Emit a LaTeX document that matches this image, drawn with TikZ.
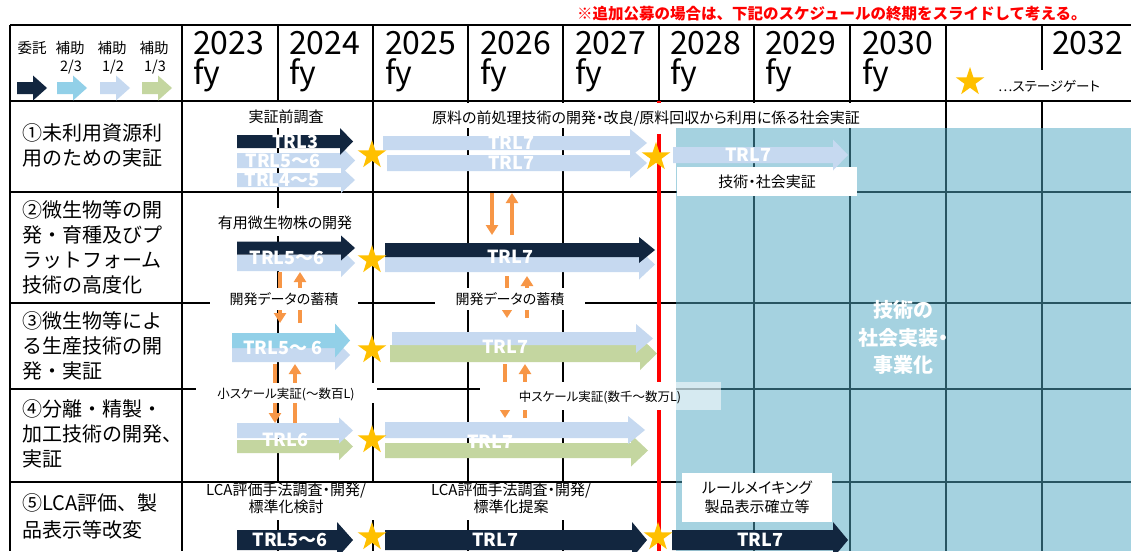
\documentclass[tikz,border=0pt]{standalone}
\usepackage{fontspec}
\setmainfont{Noto Sans CJK JP}[RawFeature=+palt]
\newfontfamily\jpfull{Noto Sans CJK JP}
\usetikzlibrary{shapes.geometric,arrows.meta}
\definecolor{navy}{RGB}{18,38,63}
\definecolor{skyb}{RGB}{146,208,232}
\definecolor{paleb}{RGB}{198,217,240}
\definecolor{greenb}{RGB}{196,214,160}
\definecolor{orng}{RGB}{247,150,70}
\definecolor{starc}{RGB}{255,192,0}
\definecolor{bluebg}{RGB}{165,210,224}
\definecolor{tealln}{RGB}{40,85,98}
\definecolor{redln}{RGB}{255,0,0}
% #1 colour, #2 x start, #3 x tip, #4 y centre, #5 body half height, #6 head half height, #7 head length
\newcommand\blockarr[7]{\fill[#1] (#2,#4-#5) -- (#3-#7,#4-#5) -- (#3-#7,#4-#6) -- (#3,#4) -- (#3-#7,#4+#6) -- (#3-#7,#4+#5) -- (#2,#4+#5) -- cycle;}
\tikzset{
  gridline/.style={line width=1.4pt},
  oarrow/.style={draw=orng, line width=4.5pt, -{Triangle[width=12pt,length=10pt]}},
  gate/.style={star, star points=5, star point ratio=2.6, fill=starc, minimum size=30pt, inner sep=0pt},
  trl/.style={text=white, font=\bfseries\fontsize{18}{20}\selectfont, inner sep=0pt},
  lbl/.style={font=\fontsize{15}{17}\selectfont, inner sep=0pt, align=center},
  rowlbl/.style={font=\jpfull\fontsize{20}{25}\selectfont, inner sep=0pt, align=left, anchor=west},
  yr/.style={font=\fontsize{32}{34}\selectfont, inner sep=0pt, anchor=base west},
  wbox/.style={fill=white}
}
\begin{document}
\begin{tikzpicture}[x=1pt,y=-1pt]
\useasboundingbox (0,0) rectangle (1131,551);
\clip (0,0) rectangle (1131,551);
\fill[white] (0,0) rectangle (1131,551);
% social implementation region
\fill[bluebg] (676,128) rectangle (1131,551);
% grid
\foreach \y in {25,101,192,303,389,482} \draw[gridline] (10,\y) -- (1131,\y);
\foreach \x in {10,182,278,373,468,563,659,754,850,946,1042} \draw[gridline] (\x,25) -- (\x,551);
\begin{scope}
\clip (676,128) rectangle (1131,551);
\foreach \y in {192,303,389,482} \draw[gridline,tealln] (10,\y) -- (1131,\y);
\foreach \x in {754,850,946,1042} \draw[gridline,tealln] (\x,25) -- (\x,551);
\end{scope}
% orange data arrows
\coordinate (oa1) at (492,193); \coordinate (oa2) at (492,235);
\coordinate (ob1) at (512,235); \coordinate (ob2) at (512,193);
\draw[oarrow] (oa1) -- (oa2); \draw[oarrow] (ob1) -- (ob2);
\coordinate (oc1) at (280,272); \coordinate (oc2) at (280,323);
\coordinate (od1) at (300,323); \coordinate (od2) at (300,272);
\draw[oarrow] (oc1) -- (oc2); \draw[oarrow] (od1) -- (od2);
\coordinate (oe1) at (507,276); \coordinate (oe2) at (507,318);
\coordinate (of1) at (527,318); \coordinate (of2) at (527,276);
\draw[oarrow] (oe1) -- (oe2); \draw[oarrow] (of1) -- (of2);
\coordinate (og1) at (275,364); \coordinate (og2) at (275,423);
\coordinate (oh1) at (295,423); \coordinate (oh2) at (295,364);
\draw[oarrow] (og1) -- (og2); \draw[oarrow] (oh1) -- (oh2);
\coordinate (oi1) at (505,364); \coordinate (oi2) at (505,418);
\coordinate (oj1) at (525,418); \coordinate (oj2) at (525,364);
\draw[oarrow] (oi1) -- (oi2); \draw[oarrow] (oj1) -- (oj2);
% red deadline
\coordinate (r1) at (659,101); \coordinate (r2) at (659,551);
\draw[redln, line width=3.5pt] (r1) -- (r2);
% white label backgrounds
\fill[wbox] (240,102) rectangle (332,128);
\fill[wbox] (425,103) rectangle (868,128);
\fill[wbox] (655,128) rectangle (663,134);
\fill[wbox] (210,208) rectangle (360,236);
\fill[wbox] (210,288) rectangle (358,310);
\fill[wbox] (435,288) rectangle (585,310);
\fill[wbox] (196,383) rectangle (377,403);
\fill[wbox] (480,382) rectangle (676,410);
\fill[white,opacity=.55] (676,382) rectangle (721,410);
\fill[wbox] (197,483) rectangle (387,520);
\fill[wbox] (398,483) rectangle (625,520);
\fill[wbox] (677,167) rectangle (857,196);
\fill[wbox] (682,473) rectangle (832,522);
\fill[wbox] (985,70) rectangle (1120,100);
% legend arrows
\blockarr{navy}{17}{47}{88}{6}{12.5}{14}
\blockarr{skyb}{57}{87}{88}{6}{12.5}{14}
\blockarr{paleb}{100}{130}{88}{6}{12.5}{14}
\blockarr{greenb}{142}{172}{88}{6}{12.5}{14}
% row 1
\blockarr{paleb}{237}{355}{180}{7}{13}{14}
\blockarr{paleb}{237}{355}{160.5}{7.5}{14}{14}
\blockarr{navy}{237}{353}{141.5}{6.5}{13.5}{13}
\blockarr{paleb}{387}{647}{163}{8}{15}{17}
\blockarr{paleb}{383}{647}{143}{7}{14}{17}
\blockarr{paleb}{673}{848}{155}{8}{15.5}{15}
% row 2
\blockarr{paleb}{237}{355}{263}{8}{14}{14}
\blockarr{navy}{237}{355}{248}{6.5}{12.5}{14}
\blockarr{paleb}{385}{655}{264.5}{7.5}{15}{16}
\blockarr{navy}{385}{655}{250}{7}{13}{16}
% row 3
\blockarr{paleb}{232}{350}{355}{7}{15}{15}
\blockarr{skyb}{232}{350}{340.5}{7.5}{17}{15}
\blockarr{greenb}{390}{657}{353.5}{8.5}{16.5}{17}
\blockarr{paleb}{392}{653}{338.5}{6.5}{14.5}{17}
% row 4
\blockarr{greenb}{237}{353}{446.5}{6.5}{13.5}{14}
\blockarr{paleb}{237}{353}{430.5}{7.5}{13}{14}
\blockarr{greenb}{385}{648}{450.5}{7.5}{16}{17}
\blockarr{paleb}{385}{645}{430}{8}{14}{17}
% row 5
\blockarr{navy}{237}{353}{540}{10}{18}{16}
\blockarr{navy}{385}{647}{540}{10}{18}{15}
\blockarr{navy}{672}{848}{540}{10}{18}{15}
% stage gates
\node[gate] (g0) at (970,82) {};
\node[gate] (g1) at (372,155) {};
\node[gate] (g2) at (656,157) {};
\node[gate] (g3) at (372,260) {};
\node[gate] (g4) at (372,350) {};
\node[gate] (g5) at (372,440) {};
\node[gate] (g6) at (372,537) {};
\node[gate] (g7) at (658,537) {};
% header texts
\node[anchor=west, inner sep=0pt, text=redln, font=\jpfull\bfseries\fontsize{15.5}{17}\selectfont] (note) at (577,14) {※追加公募の場合は、下記のスケジュールの終期をスライドして考える。};
\node[lbl, font=\jpfull\fontsize{14.5}{16}\selectfont] (l0) at (32,48) {委託};
\node[lbl, font=\jpfull\fontsize{14.5}{16}\selectfont] (l1) at (70,48) {補助};
\node[lbl, font=\jpfull\fontsize{14.5}{16}\selectfont] (l2) at (112,48) {補助};
\node[lbl, font=\jpfull\fontsize{14.5}{16}\selectfont] (l3) at (154,48) {補助};
\node[lbl, font=\fontsize{14.5}{16}\selectfont] (f1) at (71,67) {2/3};
\node[lbl, font=\fontsize{14.5}{16}\selectfont] (f2) at (113,67) {1/2};
\node[lbl, font=\fontsize{14.5}{16}\selectfont] (f3) at (155,67) {1/3};
\node[yr] (y23) at (193,55) {2023}; \node[yr] (fy23) at (193,84) {fy};
\node[yr] (y24) at (289,55) {2024}; \node[yr] (fy24) at (289,84) {fy};
\node[yr] (y25) at (385,55) {2025}; \node[yr] (fy25) at (385,84) {fy};
\node[yr] (y26) at (480,55) {2026}; \node[yr] (fy26) at (480,84) {fy};
\node[yr] (y27) at (575,55) {2027}; \node[yr] (fy27) at (575,84) {fy};
\node[yr] (y28) at (670,55) {2028}; \node[yr] (fy28) at (670,84) {fy};
\node[yr] (y29) at (765,55) {2029}; \node[yr] (fy29) at (765,84) {fy};
\node[yr] (y30) at (862,55) {2030}; \node[yr] (fy30) at (862,84) {fy};
\node[yr] (y32) at (1052,55) {2032};
\node[anchor=west, inner sep=0pt, font=\fontsize{13.5}{15}\selectfont] (sg) at (998,86) {…ステージゲート};
% row labels
\node[rowlbl] (r1l) at (22,145.5) {①未利用資源利\\用のための実証};
\node[rowlbl] (r2l) at (22,247) {②微生物等の開\\発・育種及びプ\\ラットフォーム\\技術の高度化};
\node[rowlbl] (r3l) at (22,346) {③微生物等によ\\る生産技術の開\\発・実証};
\node[rowlbl] (r4l) at (22,434) {④分離・精製・\\加工技術の開発、\\実証};
\node[rowlbl, font=\jpfull\fontsize{20}{27}\selectfont] (r5l) at (22,516.5) {⑤LCA評価、製\\品表示等改変};
% task labels
\node[lbl] (t1) at (286,117) {実証前調査};
\node[lbl] (t2) at (646,119) {原料の前処理技術の開発・改良/原料回収から利用に係る社会実証};
\node[lbl] (t3) at (285,223) {有用微生物株の開発};
\node[lbl, font=\fontsize{14}{16}\selectfont] (t4) at (284,299) {開発データの蓄積};
\node[lbl, font=\fontsize{14}{16}\selectfont] (t5) at (510,299) {開発データの蓄積};
\node[lbl, font=\fontsize{12.5}{14}\selectfont] (t6) at (286,394) {小スケール実証(～数百L)};
\node[lbl, font=\fontsize{12.5}{14}\selectfont] (t7) at (600,397) {中スケール実証(数千～数万L)};
\node[lbl] (t8) at (286,498.5) {LCA評価手法調査・開発/\\標準化検討};
\node[lbl] (t9) at (511,498.5) {LCA評価手法調査・開発/\\標準化提案};
\node[lbl] (t10) at (767,182) {技術・社会実証};
\node[lbl, font=\fontsize{15}{19}\selectfont] (t11) at (757,497.5) {ルールメイキング\\製品表示確立等};
\node[lbl, text=white, font=\bfseries\fontsize{20}{27.5}\selectfont] (soc) at (903,337.5) {技術の\\社会実装・\\事業化};
% TRL labels
\node[trl] (a1) at (295,142) {TRL3};
\node[trl] (a2) at (283,161) {TRL5～6};
\node[trl] (a3) at (282,180) {TRL4～5};
\node[trl] (a4) at (511,143) {TRL7};
\node[trl] (a5) at (511,163) {TRL7};
\node[trl] (a6) at (748,155) {TRL7};
\node[trl] (a7) at (287,258) {TRL5～6};
\node[trl] (a8) at (510,257) {TRL7};
\node[trl] (a9) at (283,348) {TRL5～ 6};
\node[trl] (a10) at (505,347) {TRL7};
\node[trl] (a11) at (285,440) {TRL6};
\node[trl] (a12) at (490,442) {TRL7};
\node[trl] (a13) at (290,540) {TRL5～6};
\node[trl] (a14) at (495,540) {TRL7};
\node[trl] (a15) at (760,540) {TRL7};
\end{tikzpicture}
\end{document}
